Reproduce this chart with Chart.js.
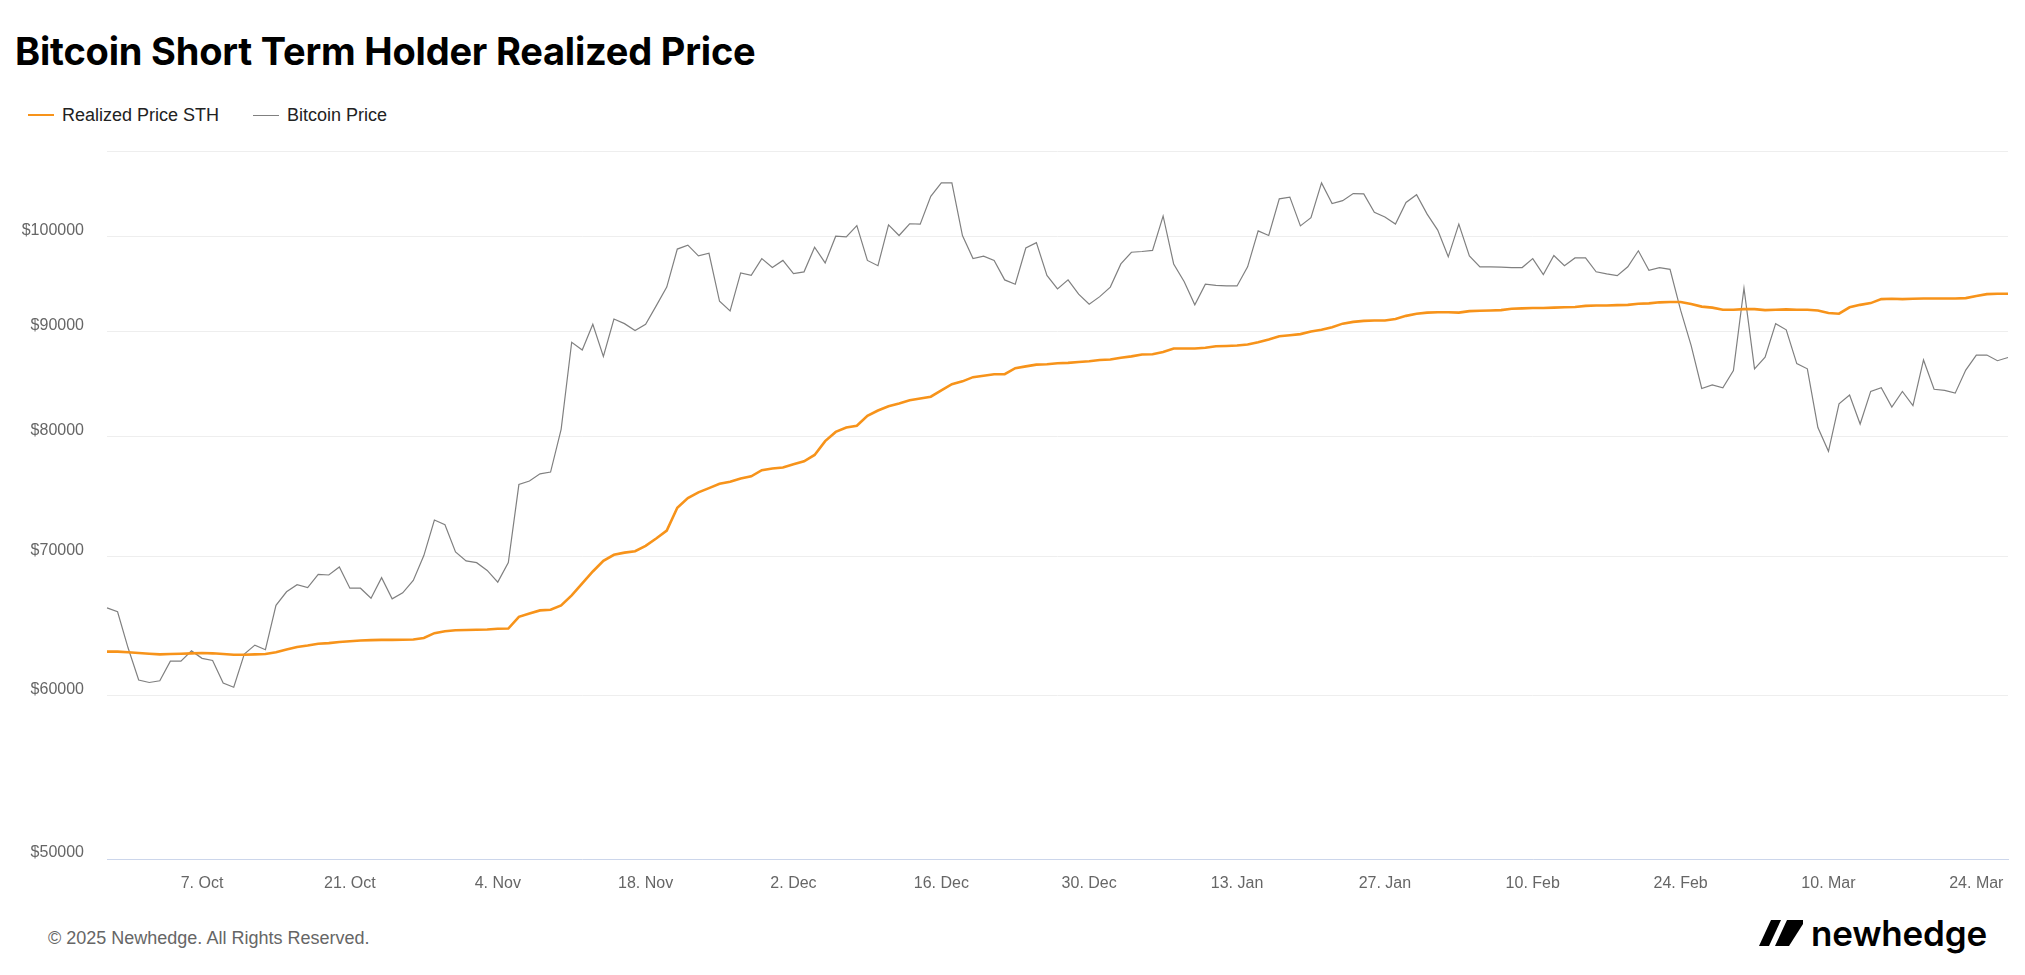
<!DOCTYPE html>
<html>
<head>
<meta charset="utf-8">
<script src="https://cdn.jsdelivr.net/npm/chart.js@4.4.1/dist/chart.umd.min.js"></script>
<style>
body { margin: 0; background: #fff; width: 2025px; height: 975px; overflow: hidden; position: relative; font-family: "Liberation Sans", Arial, sans-serif; }
#title { position: absolute; left: 15px; top: 32px; font: 700 38px/38px Inter, sans-serif; color: #000; letter-spacing: -0.2px; }
#legend { position: absolute; left: 28px; top: 104px; height: 22px; display: flex; align-items: center; font-size: 18px; color: #222; }
.item { display: flex; align-items: center; margin-right: 34px; }
.swatch { width: 26px; height: 0; margin-right: 8px; }
#chartBox { position: absolute; left: 0; top: 140px; width: 2025px; height: 760px; }
#footer { position: absolute; left: 48px; top: 928px; font-size: 18px; line-height: 20px; color: #666; }
#logo { position: absolute; left: 1759px; top: 915px; height: 36px; display: flex; align-items: center; }
#logo span { font: 600 35px/36px Inter, sans-serif; color: #000; margin-left: 8px; letter-spacing: -0.2px; }
</style>
</head>
<body>
<div id="title">Bitcoin Short Term Holder Realized Price</div>
<div id="legend">
  <div class="item"><div class="swatch" style="border-top:2px solid #f7931a"></div>Realized Price STH</div>
  <div class="item"><div class="swatch" style="border-top:1px solid #808080"></div>Bitcoin Price</div>
</div>
<div id="chartBox"><canvas id="chart" width="2025" height="760"></canvas></div>
<div id="footer">© 2025 Newhedge. All Rights Reserved.</div>
<div id="logo">
  <svg width="44" height="26" viewBox="0 0 44 26"><polygon points="0,26 12,0 22,0 10,26" fill="#000"/><polygon points="16,26 28,0 44,0 44,4 30,26" fill="#000"/></svg>
  <span>newhedge</span>
</div>
<script>
// daily closes, 28 Sep 2024 .. 27 Mar 2025
const startDate = [2024, 8, 28];
const dayCount = 181;

const realizedPriceSTH = [
  62990, 62990, 62940, 62890, 62840, 62800, 62820, 62840, 62870, 62890,
  62870, 62820, 62770, 62770, 62800, 62820, 62940, 63140, 63320, 63420,
  63540, 63590, 63670, 63720, 63770, 63800, 63820, 63820, 63830, 63850,
  63950, 64300, 64430, 64510, 64530, 64540, 64560, 64610, 64630, 65480,
  65720, 65950, 66000, 66320, 67060, 67970, 68870, 69690, 70160, 70330,
  70440, 70860, 71450, 72080, 73940, 74730, 75210, 75570, 75930, 76110,
  76380, 76570, 77090, 77240, 77330, 77610, 77860, 78410, 79630, 80450,
  80840, 81000, 81900, 82390, 82780, 83040, 83340, 83500, 83670, 84270,
  84840, 85110, 85510, 85650, 85790, 85790, 86370, 86540, 86710, 86750,
  86850, 86880, 86960, 87030, 87160, 87200, 87370, 87510, 87690, 87720,
  87930, 88280, 88280, 88280, 88350, 88500, 88530, 88570, 88680, 88900,
  89180, 89500, 89600, 89710, 89960, 90140, 90400, 90760, 90940, 91040,
  91080, 91080, 91230, 91550, 91770, 91880, 91920, 91920, 91880, 92030,
  92070, 92100, 92140, 92280, 92320, 92350, 92350, 92390, 92430, 92460,
  92570, 92610, 92610, 92650, 92680, 92790, 92830, 92940, 92980, 92980,
  92760, 92500, 92390, 92170, 92170, 92240, 92240, 92140, 92170, 92210,
  92170, 92170, 92100, 91840, 91770, 92430, 92680, 92860, 93270, 93310,
  93270, 93310, 93340, 93340, 93340, 93340, 93380, 93600, 93790, 93830,
  93830
];

const bitcoinPrice = [
  66130, 65850, 63240, 61030, 60860, 60980, 62320, 62320, 63040, 62520,
  62370, 60830, 60540, 62820, 63450, 63120, 66320, 67330, 67860, 67650,
  68650, 68600, 69220, 67600, 67600, 66850, 68400, 66800, 67250, 68190,
  70100, 72930, 72550, 70380, 69690, 69550, 68950, 68060, 69550, 75870,
  76170, 76780, 76930, 80680, 88900, 88130, 90690, 87510, 91230, 90760,
  90070, 90690, 92570, 94530, 98620, 99050, 97880, 98160, 93050, 92050,
  96040, 95770, 97580, 96610, 97380, 95960, 96150, 98820, 97110, 100040,
  99960, 101230, 97380, 96810, 101320, 100120, 101440, 101400, 104580, 106160,
  106160, 100120, 97580, 97850, 97380, 95290, 94830, 98740, 99330, 95770,
  94340, 95290, 93790, 92750, 93530, 94530, 97000, 98270, 98350, 98470,
  102320, 97000, 95100, 92680, 94830, 94720, 94650, 94650, 96690, 100640,
  100120, 104290, 104490, 101200, 102120, 106160, 103750, 104080, 104910, 104870,
  102730, 102200, 101400, 103880, 104780, 102530, 100720, 97770, 101400, 97880,
  96690, 96690, 96650, 96610, 96610, 97580, 95850, 97920, 96810, 97650,
  97650, 96160, 95930, 95740, 96690, 98430, 96310, 96610, 96420, 92130,
  88560, 84440, 84770, 84510, 86140, 94420, 86310, 87440, 90760, 90140,
  86810, 86310, 80840, 78730, 83000, 83830, 81160, 84160, 84510, 82710,
  84160, 82840, 87160, 84360, 84260, 84000, 86190, 87640, 87640, 87090,
  87400
];

const xTickDates = ['2024-10-07', '2024-10-21', '2024-11-04', '2024-11-18', '2024-12-02', '2024-12-16',
  '2024-12-30', '2025-01-13', '2025-01-27', '2025-02-10', '2025-02-24', '2025-03-10', '2025-03-24'];
const xTickLabels = ['7. Oct', '21. Oct', '4. Nov', '18. Nov', '2. Dec', '16. Dec',
  '30. Dec', '13. Jan', '27. Jan', '10. Feb', '24. Feb', '10. Mar', '24. Mar'];
const yTicks = [50000, 60000, 70000, 80000, 90000, 100000, 110000];

const dates = [];
for (let i = 0; i < dayCount; i++) {
  dates.push(new Date(Date.UTC(startDate[0], startDate[1], startDate[2] + i)).toISOString().slice(0, 10));
}

const axisFont = { family: '"Liberation Sans", Arial, sans-serif', size: 16 };

new Chart(document.getElementById('chart').getContext('2d'), {
  type: 'line',
  data: {
    labels: dates,
    datasets: [{
      label: 'Realized Price STH',
      data: realizedPriceSTH,
      borderColor: '#f7931a',
      borderWidth: 2.6,
      pointRadius: 0,
      tension: 0
    }, {
      label: 'Bitcoin Price',
      data: bitcoinPrice,
      borderColor: '#808080',
      borderWidth: 1.2,
      pointRadius: 0,
      tension: 0
    }]
  },
  options: {
    responsive: false,
    animation: false,
    layout: { padding: { top: 11, right: 17, left: 0, bottom: 0 } },
    plugins: { legend: { display: false }, tooltip: { enabled: false } },
    scales: {
      x: {
        grid: { display: false },
        border: { display: true, color: '#ccd6eb', width: 1 },
        ticks: {
          autoSkip: false,
          maxRotation: 0,
          padding: 7,
          color: '#666',
          font: axisFont,
          callback: function (v, i) {
            const k = xTickDates.indexOf(dates[i]);
            return k >= 0 ? xTickLabels[k] : null;
          }
        },
        afterFit: s => { s.height = 41; s.paddingLeft = 0; s.paddingRight = 0; }
      },
      y: {
        type: 'logarithmic',
        min: 50000,
        max: 110000,
        grid: { color: '#eeeeee', lineWidth: 1, drawTicks: false },
        border: { display: false },
        afterBuildTicks: s => { s.ticks = yTicks.map(v => ({ value: v })); },
        ticks: {
          padding: 23,
          labelOffset: -6,
          color: '#666',
          font: axisFont,
          callback: v => v === 110000 ? '' : '$' + v
        },
        afterFit: s => { s.width = 107; s.paddingTop = 0; s.paddingBottom = 0; }
      }
    }
  }
});
</script>
</body>
</html>
